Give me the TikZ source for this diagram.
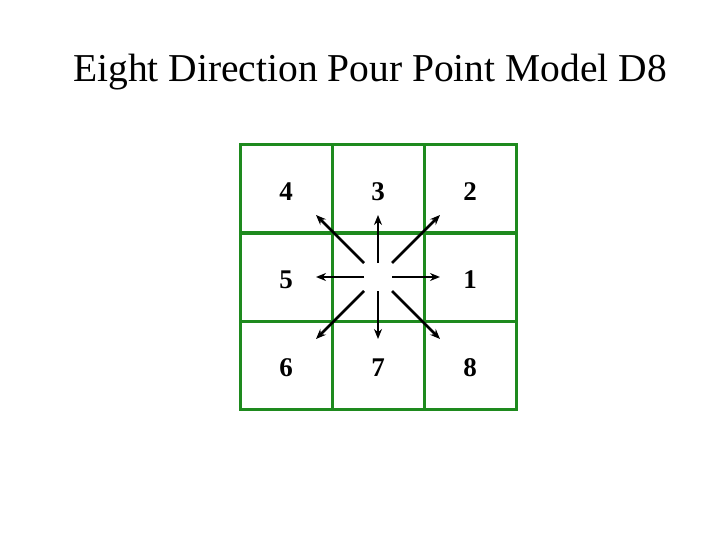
\documentclass[tikz,border=0pt]{standalone}
\usepackage{fontspec}
\setmainfont{Liberation Serif}
\usetikzlibrary{arrows.meta}

\definecolor{cellgreen}{RGB}{30,138,30}
\tikzset{
  cellline/.style={cellgreen, line width=3pt, line cap=rect},
  digit/.style={font=\fontsize{27}{27}\selectfont\bfseries},
  flow/.style={line width=2.6pt, -{Stealth[length=10pt,width=8pt]}},
}

\begin{document}
\begin{tikzpicture}[x=1pt,y=-1pt]
    \useasboundingbox (0,0) rectangle (720,540);
    \node[font=\fontsize{39.5}{39.5}\selectfont] (title) at (370,72) {Eight Direction Pour Point Model D8};
    % 3x3 grid of cells, origin at the top-left corner
    \begin{scope}[shift={(240,145)}, x=92pt, y=-88pt]
      \foreach \i in {0,...,3} {
        \draw[cellline] (\i,0) -- (\i,3);
        \draw[cellline] (0,\i) -- (3,\i);
      }
      \foreach \n/\i/\j in {4/0/0, 3/1/0, 2/2/0, 5/0/1, 1/2/1, 6/0/2, 7/1/2, 8/2/2}
        \node[digit] (d\n) at (\i+.5,\j+.53) {\n};
      \coordinate (o) at (1.5,1.5);
    \end{scope}
    % the eight pour directions
    \foreach \k/\dx/\dy in {1/1/0, 2/1/-1, 3/0/-1, 4/-1/-1, 5/-1/0, 6/-1/1, 7/0/1, 8/1/1} {
      \coordinate (s\k) at ([shift={(14*\dx,14*\dy)}]o);
      \coordinate (e\k) at ([shift={(62*\dx,62*\dy)}]o);
      \draw[flow] (s\k) -- (e\k);
    }
\end{tikzpicture}
\end{document}
